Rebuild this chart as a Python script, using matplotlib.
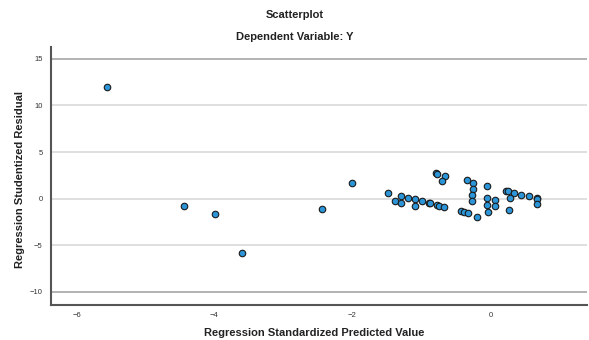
import matplotlib
matplotlib.use("Agg")
import matplotlib.pyplot as plt

plt.rcParams['font.family'] = ['Liberation Sans', 'DejaVu Sans']

pred = [-5.556, -4.44, -3.99, -3.60, -2.44, -2.01,
        -1.49, -1.39, -1.29, -1.29, -1.19, -1.10, -1.10, -0.99, -0.89, -0.88,
        -0.78, -0.75, -0.67, -0.79, -0.77, -0.66, -0.70,
        -0.43, -0.38, -0.32, -0.19, -0.34, -0.25, -0.25, -0.26, -0.26,
        -0.05, -0.05, -0.05, -0.03, 0.06, 0.06,
        0.23, 0.25, 0.34, 0.28, 0.27, 0.45, 0.56, 0.67, 0.68, 0.68]
resid = [11.97, -0.82, -1.60, -5.82, -1.07, 1.68,
         0.61, -0.25, 0.29, -0.43, 0.07, -0.07, -0.82, -0.28, -0.50, -0.50,
         -0.68, -0.75, -0.89, 2.72, 2.65, 2.47, 1.86,
         -1.29, -1.39, -1.53, -1.93, 1.97, 1.72, 1.04, 0.40, -0.28,
         1.36, 0.07, -0.64, -1.39, -0.17, -0.82,
         0.86, 0.80, 0.61, 0.07, -1.25, 0.43, 0.26, 0.04, -0.02, -0.60]

xticks = [-6, -4, -2, 0]
yticks = [-10, -5, 0, 5, 10, 15]

fig = plt.figure(figsize=(5.89, 3.40), dpi=100)
ax = fig.add_axes([51/589, 35/340, 536/589, 258.3/340])

for y in yticks:
    col = '#a6a6a6' if y in (15, -10) else '#d9d9d9'
    ax.axhline(y, color=col, lw=1.2, zorder=1)

ax.scatter(pred, resid, s=22, facecolor='#2b95d8', edgecolor='#1a1a1a',
           linewidths=0.8, zorder=3)

ax.set_xlim(-6.37, 1.40)
ax.set_ylim(-11.4, 16.3)
ax.set_xticks(xticks)
ax.set_yticks(yticks)
ax.tick_params(length=0, labelsize=5.5, colors='#333333')
ax.tick_params(axis='x', pad=5)
ax.tick_params(axis='y', pad=6)
for s in ('top', 'right'):
    ax.spines[s].set_visible(False)
for s in ('left', 'bottom'):
    ax.spines[s].set_color('#555555')
    ax.spines[s].set_linewidth(1.5)

fig.text(0.5, 1 - 15/340, 'Scatterplot', ha='center', va='center',
         fontsize=8, fontweight='bold', color='#222222')
fig.text(0.5, 1 - 37/340, 'Dependent Variable: Y', ha='center', va='center',
         fontsize=8, fontweight='bold', color='#222222')
fig.text(314/589, 1 - 333/340, 'Regression Standardized Predicted Value',
         ha='center', va='center', fontsize=8, fontweight='bold', color='#222222')
fig.text(20/589, 1 - 180/340, 'Regression Studentized Residual', rotation=90,
         ha='center', va='center', fontsize=8, fontweight='bold', color='#222222')

fig.savefig('out.png', dpi=100)
